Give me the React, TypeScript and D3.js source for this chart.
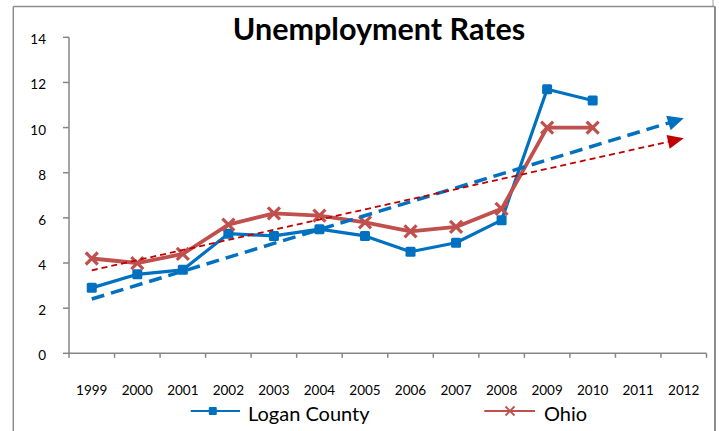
import React from "react";
import * as d3 from "d3";

const years = ["1999","2000","2001","2002","2003","2004","2005","2006","2007","2008","2009","2010","2011","2012"];
const loganValues = [2.9, 3.5, 3.7, 5.3, 5.2, 5.5, 5.2, 4.5, 4.9, 5.9, 11.7, 11.2];
const ohioValues = [4.2, 4.0, 4.4, 5.7, 6.2, 6.1, 5.8, 5.4, 5.6, 6.4, 10.0, 10.0];
const yTicks = [0, 2, 4, 6, 8, 10, 12, 14];
const titleText = "Unemployment Rates";
const seriesNames = ["Logan County", "Ohio"];
const forecastPeriods = 2;

const W = 719, H = 431;
const BLUE = "#0070C0";
const RED = "#C0504D";
const DARKRED = "#C00000";
const AXIS = "#868686";
const FONT = "Lato, 'Open Sans', sans-serif";

function linReg(vals: number[]) {
  const xs = vals.map((_, i) => i);
  const mx = d3.mean(xs)!;
  const my = d3.mean(vals)!;
  const sxy = d3.sum(vals, (v, i) => (i - mx) * (v - my));
  const sxx = d3.sum(xs, (x) => (x - mx) * (x - mx));
  const slope = sxy / sxx;
  return { slope, intercept: my - slope * mx };
}

export default function App() {
  const x = d3.scaleBand<string>().domain(years).range([69, 706.5]).padding(0);
  const y = d3.scaleLinear().domain([0, 14]).range([353.3, 37.3]);
  const bw = x.bandwidth();
  const cx = (i: number) => (x(years[i]) as number) + bw / 2;

  const line = d3
    .line<number>()
    .x((_, i) => cx(i))
    .y((v) => y(v));

  const trend = (vals: number[]) => {
    const { slope, intercept } = linReg(vals);
    const lastIdx = vals.length - 1 + forecastPeriods;
    return {
      x1: cx(0), y1: y(intercept),
      x2: cx(lastIdx), y2: y(intercept + slope * lastIdx),
    };
  };
  const tB = trend(loganValues);
  const tR = trend(ohioValues);

  const arrow = (t: { x1: number; y1: number; x2: number; y2: number }, color: string, len: number, half: number) => {
    const ang = Math.atan2(t.y2 - t.y1, t.x2 - t.x1);
    const bx = t.x2 - len * Math.cos(ang);
    const by = t.y2 - len * Math.sin(ang);
    const px = -Math.sin(ang) * half, py = Math.cos(ang) * half;
    return (
      <polygon
        points={`${t.x2},${t.y2} ${bx + px},${by + py} ${bx - px},${by - py}`}
        fill={color}
      />
    );
  };
  const shorten = (t: { x1: number; y1: number; x2: number; y2: number }, d: number) => {
    const ang = Math.atan2(t.y2 - t.y1, t.x2 - t.x1);
    return { x: t.x2 - d * Math.cos(ang), y: t.y2 - d * Math.sin(ang) };
  };
  const eB = shorten(tB, 12);
  const eR = shorten(tR, 12);

  const xMark = (px: number, py: number, s: number, w: number, key?: any) => (
    <g key={key} stroke={RED} strokeWidth={w} strokeLinecap="butt">
      <line x1={px - s} y1={py - s} x2={px + s} y2={py + s} />
      <line x1={px - s} y1={py + s} x2={px + s} y2={py - s} />
    </g>
  );

  const boundaries = years.map((yr) => x(yr) as number).concat([706.5]);

  return (
    <svg
      width={W}
      height={H}
      style={{ position: "absolute", left: 0, top: 0, background: "#fff" }}
      fontFamily={FONT}
    >
      <rect x={0} y={0} width={W} height={H} fill="#fff" />
      {/* frame */}
      <line x1={713} y1={0} x2={713} y2={6.5} stroke="#a0a0a0" strokeWidth={1} />
      <line x1={13.3} y1={6.5} x2={715} y2={6.5} stroke="#8c8c8c" strokeWidth={1.5} />
      <line x1={13.3} y1={6.5} x2={13.3} y2={H} stroke="#8c8c8c" strokeWidth={1.5} />
      <line x1={715} y1={6.5} x2={715} y2={H} stroke="#8c8c8c" strokeWidth={2} />

      {/* title */}
      <text x={379} y={40} textAnchor="middle" fontWeight={700} fontSize={30.5} fill="#000">
        {titleText}
      </text>

      {/* y axis */}
      <line x1={69} y1={y(0)} x2={69} y2={y(14)} stroke={AXIS} strokeWidth={1.5} />
      {yTicks.map((t) => (
        <g key={t}>
          <line x1={63} x2={69} y1={y(t)} y2={y(t)} stroke={AXIS} strokeWidth={1.5} />
          <text x={46} y={y(t) + 2} textAnchor="end" dominantBaseline="central" fontSize={13.5} fill="#000">
            {t}
          </text>
        </g>
      ))}

      {/* x axis */}
      <line x1={69} y1={y(0)} x2={706.5} y2={y(0)} stroke={AXIS} strokeWidth={1.5} />
      {boundaries.map((b, i) => (
        <line key={i} x1={b} x2={b} y1={y(0)} y2={y(0) + 4.5} stroke={AXIS} strokeWidth={1.5} />
      ))}
      {years.map((yr, i) => (
        <text key={yr} x={cx(i)} y={390} textAnchor="middle" dominantBaseline="central" fontSize={13.5} fill="#000">
          {yr}
        </text>
      ))}

      {/* series */}
      <path d={line(loganValues) || ""} fill="none" stroke={BLUE} strokeWidth={3.2} strokeLinejoin="round" />
      {loganValues.map((v, i) => (
        <rect key={i} x={cx(i) - 5} y={y(v) - 5} width={10} height={10} rx={1.5} fill={BLUE} />
      ))}
      <path d={line(ohioValues) || ""} fill="none" stroke={RED} strokeWidth={3.8} strokeLinejoin="round" />
      {ohioValues.map((v, i) => xMark(cx(i), y(v), 6, 3.2, i))}

      {/* trendlines */}
      <line x1={tB.x1} y1={tB.y1} x2={eB.x} y2={eB.y} stroke={BLUE} strokeWidth={3.5} strokeDasharray="13 7" />
      {arrow(tB, BLUE, 16, 7.5)}
      <line x1={tR.x1} y1={tR.y1} x2={eR.x} y2={eR.y} stroke={DARKRED} strokeWidth={1.8} strokeDasharray="6 4" />
      {arrow(tR, DARKRED, 16, 7)}

      {/* legend */}
      <line x1={190.7} x2={240} y1={411} y2={411} stroke={BLUE} strokeWidth={2} />
      <rect x={208.8} y={407} width={8} height={8} rx={1} fill={BLUE} />
      <text x={248} y={421} fontSize={20} fill="#000">{seriesNames[0]}</text>
      <line x1={484.3} x2={535} y1={411} y2={411} stroke={RED} strokeWidth={2} />
      {xMark(510, 411, 4.5, 1.8)}
      <text x={544} y={421} fontSize={20} fill="#000">{seriesNames[1]}</text>
    </svg>
  );
}
